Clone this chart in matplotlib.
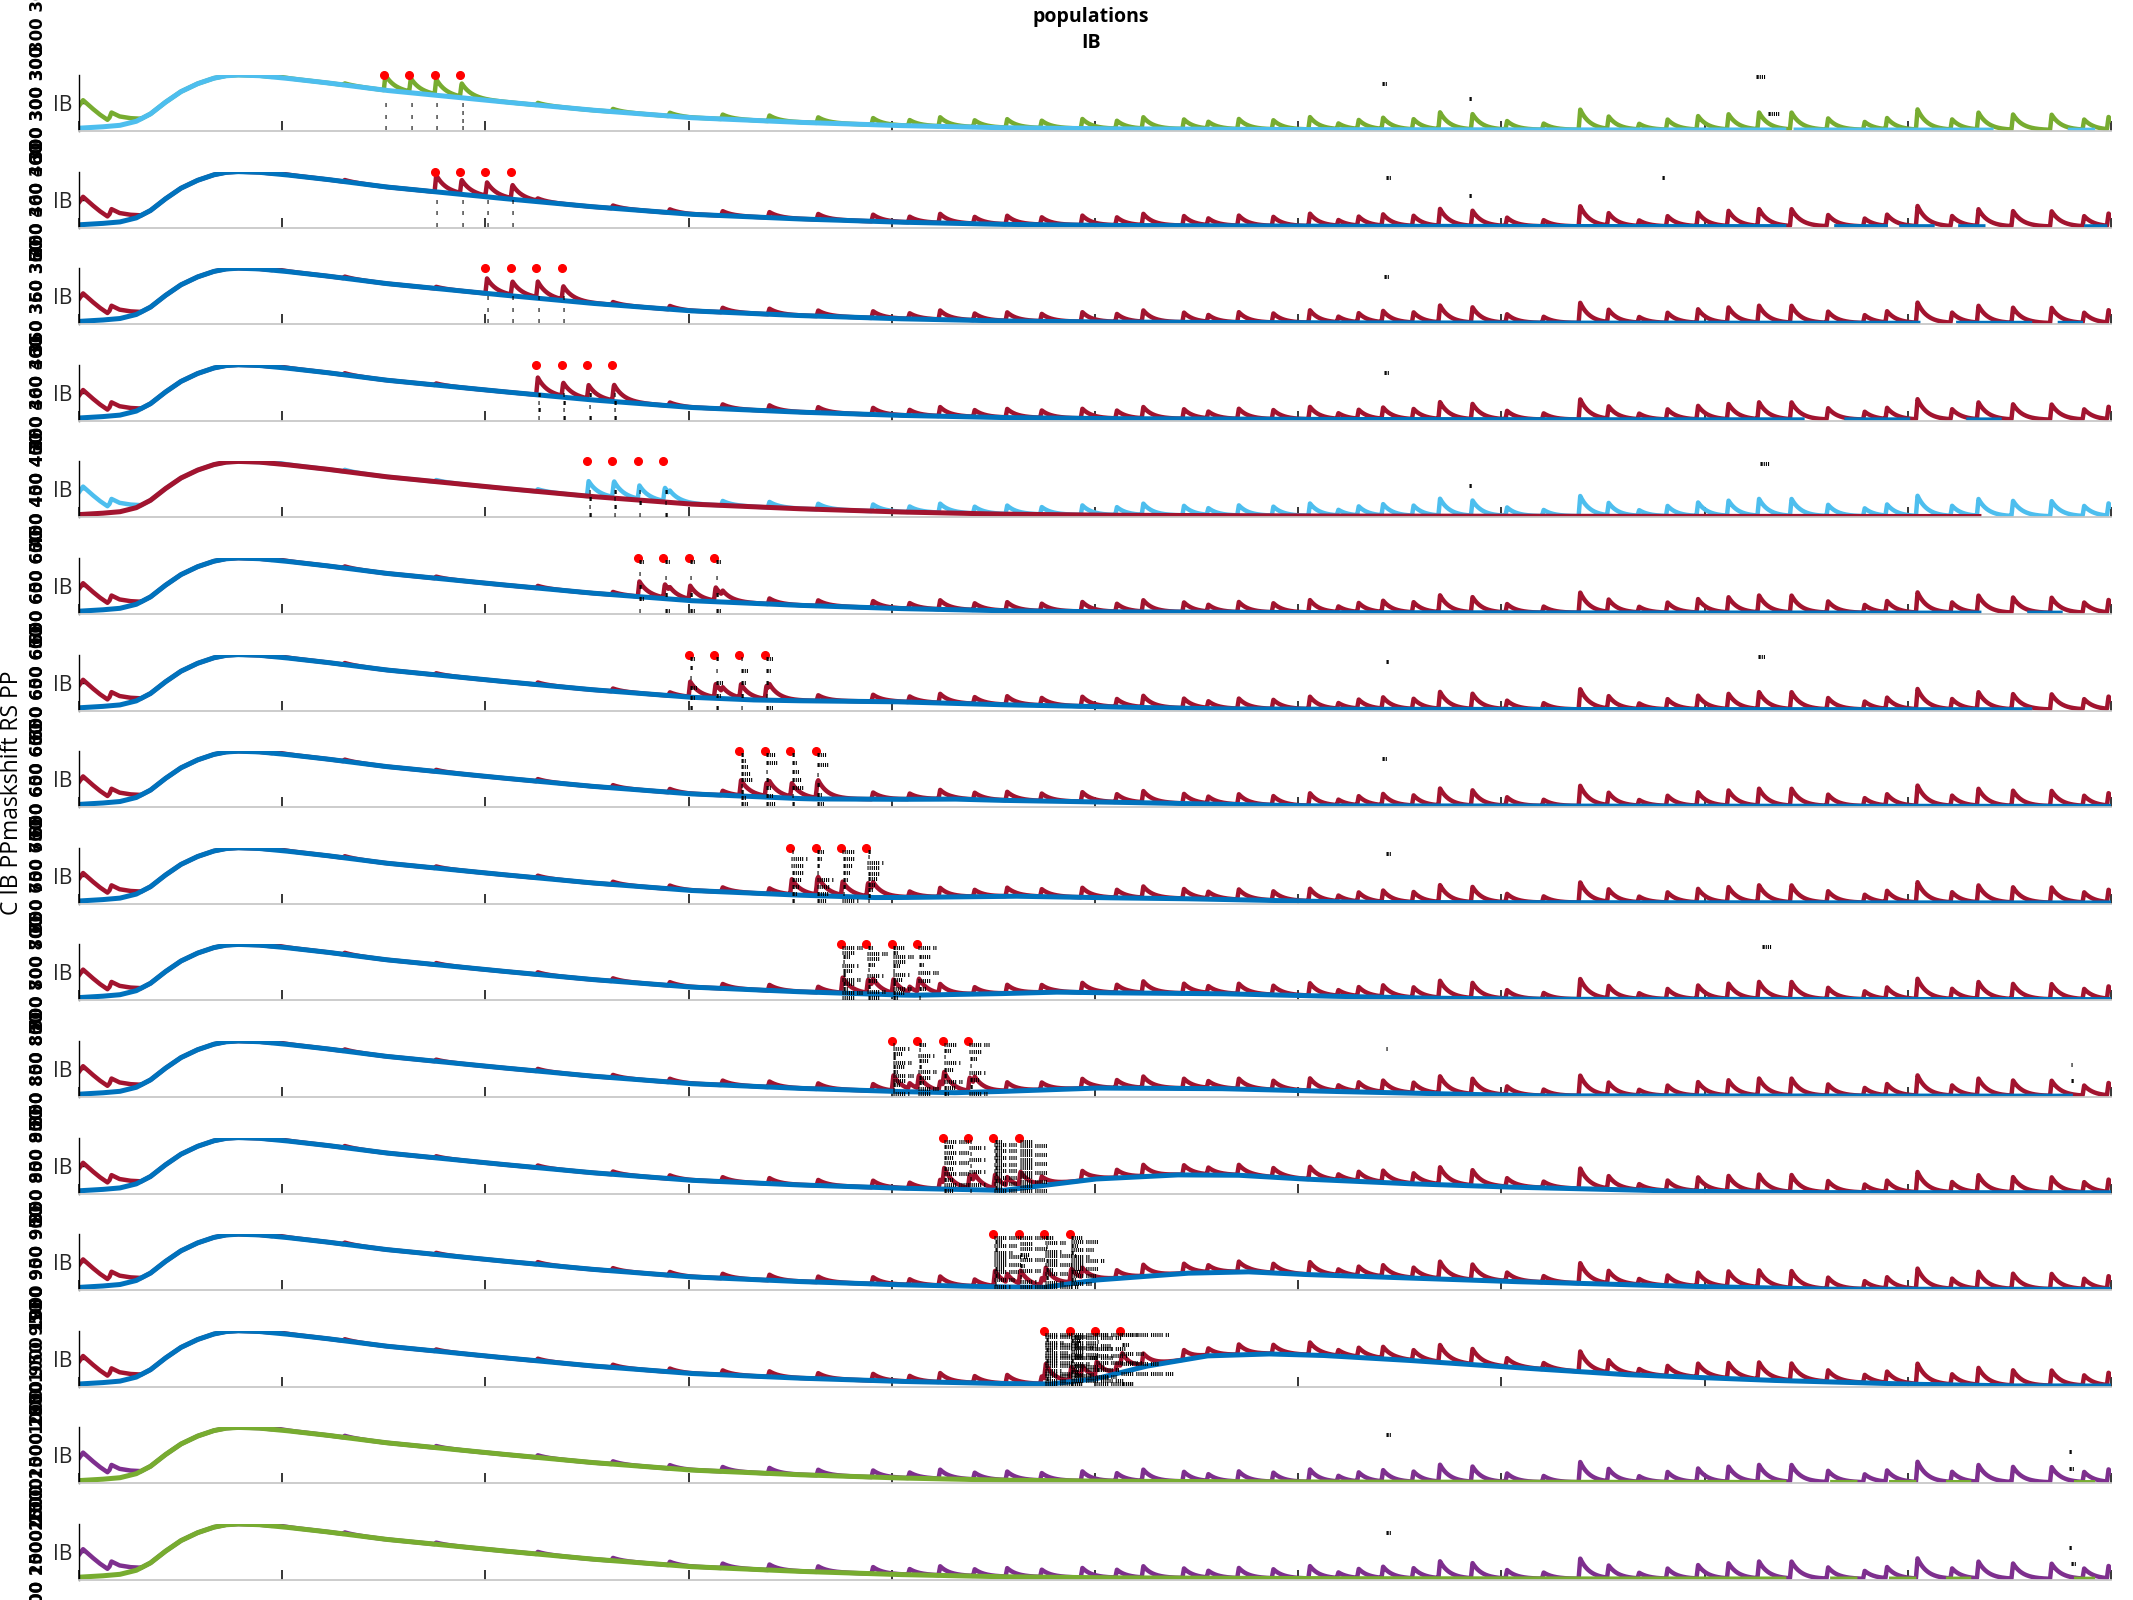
import numpy as np
import matplotlib
matplotlib.use("Agg")
import matplotlib.pyplot as plt

W, H, DPI = 2133, 1600, 100

# ---------------- data ----------------
n_rows = 16
row_ylabels = [(300, 300), (360, 400), (360, 350), (400, 360), (450, 400), (650, 600),
               (600, 650), (650, 600), (700, 650), (800, 700), (850, 800), (900, 850),
               (950, 900), (1000, 950), (1500, 2000), (1500, 2000)]

GREEN, LBLUE, RED, BLUE, PURPLE = "#77AC30", "#4DBEEE", "#A2142F", "#0072BD", "#7E2F8E"
spiky_colors = [GREEN, RED, RED, RED, LBLUE] + [RED] * 9 + [PURPLE, PURPLE]
smooth_colors = [LBLUE, BLUE, BLUE, BLUE, RED] + [BLUE] * 9 + [GREEN, GREEN]

# smooth envelope (time in ms, normalised amplitude)
env_t = [0, 10, 20, 28, 35, 42, 50, 58, 66, 72, 78, 88, 100, 120, 150, 200, 250, 300,
         350, 400, 450, 500, 600, 700, 850, 1000]
env_v = [0.05, 0.07, 0.1, 0.17, 0.3, 0.5, 0.7, 0.84, 0.94, 0.985, 1.0, 0.99, 0.95,
         0.87, 0.73, 0.55, 0.38, 0.24, 0.16, 0.1, 0.06, 0.04, 0.025, 0.02, 0.018, 0.015]

# late humps added to the envelope, per row
hump_t = {6: [330, 400, 480, 560], 7: [360, 430, 510, 600], 8: [390, 460, 540, 640],
          9: [410, 480, 560, 660, 720], 10: [430, 500, 560, 650, 720],
          11: [455, 500, 540, 570, 600, 650, 700, 780, 850],
          12: [475, 500, 545, 575, 600, 650, 700, 780, 860],
          13: [478, 500, 525, 555, 585, 610, 650, 700, 760, 830, 900, 950]}
hump_v = {6: [0, 0.06, 0.04, 0], 7: [0, 0.07, 0.05, 0], 8: [0, 0.08, 0.06, 0],
          9: [0, 0.1, 0.09, 0.02, 0], 10: [0, 0.12, 0.12, 0.05, 0],
          11: [0, 0.22, 0.3, 0.3, 0.24, 0.16, 0.1, 0.03, 0],
          12: [0, 0.14, 0.27, 0.3, 0.26, 0.2, 0.14, 0.06, 0],
          13: [0, 0.1, 0.33, 0.52, 0.56, 0.54, 0.46, 0.34, 0.2, 0.1, 0.03, 0]}

# onset transient of the spiking trace
onset_t = [0, 2, 6, 10, 14, 15, 16, 20, 25, 30, 36]
onset_v = [0.45, 0.55, 0.42, 0.3, 0.2, 0.24, 0.33, 0.26, 0.23, 0.22, 0.0]

# background spikes (time, amplitude)
bg_t = [95, 130, 175, 225, 262, 290, 316, 339, 363, 390, 408, 423, 440, 456, 473, 493,
        510, 523, 543, 555, 570, 587, 605, 619, 629, 641, 656, 669, 685, 702, 720, 738,
        752, 767, 781, 796, 811, 826, 842, 860, 878, 889, 904, 921, 934, 951, 970, 986, 998]
bg_a = [0.03, 0.03, 0.03, 0.04, 0.05, 0.06, 0.08, 0.1, 0.1, 0.12, 0.1, 0.16, 0.12, 0.15,
        0.13, 0.17, 0.14, 0.2, 0.17, 0.12, 0.18, 0.16, 0.22, 0.1, 0.16, 0.2, 0.18, 0.3,
        0.27, 0.15, 0.11, 0.36, 0.22, 0.1, 0.18, 0.24, 0.27, 0.3, 0.3, 0.2, 0.14, 0.2,
        0.36, 0.18, 0.3, 0.27, 0.27, 0.18, 0.22]

# the four marked spikes of each row (rows 1..14)
main_t = [[150 + 25 * r + 12.5 * k for k in range(4)] for r in range(14)]
main_a = [0.27, 0.24, 0.24, 0.24]

# visible pieces of the smooth trace
smooth_segs = [[(0, 839), (845, 941), (980, 991)],
               [(0, 839), (865, 889), (897, 912), (926, 937), (988, 997)],
               [(0, 905), (925, 960), (975, 985)],
               [(0, 848), (870, 900), (930, 945)],
               [(0, 935)],
               [(0, 935), (960, 975)],
               [(0, 960)], [(0, 1000)], [(0, 1000)], [(0, 1000)], [(0, 980)],
               [(0, 1000)], [(0, 1000)], [(0, 1000)],
               [(0, 839), (863, 874), (892, 903), (920, 930), (983, 991)],
               [(0, 839), (863, 874), (892, 903), (920, 930), (983, 991)]]

# tiny annotation marks near the marked spikes (count per spike)
mark_counts = [[3, 3, 3, 4], [3, 3, 3, 3], [3, 3, 3, 3], [4, 4, 3, 4], [4, 4, 3, 3],
               [5, 4, 4, 4], [6, 5, 5, 5], [9, 7, 7, 6], [8, 8, 8, 10], [12, 10, 12, 7],
               [12, 10, 9, 8], [10, 9, 16, 12], [14, 10, 12, 14], [20, 18, 8, 6]]
mark_width = [1, 1, 1, 2, 2, 3, 4, 6, 8, 10, 10, 14, 16, 26]

# isolated marks far right: (row, time, y, nchar)
far_marks = [(0, 641, 0.83, 3), (0, 684, 0.56, 2), (0, 825, 0.95, 5), (0, 831, 0.29, 6),
             (1, 643, 0.88, 3), (1, 684, 0.56, 2), (1, 779, 0.88, 2),
             (2, 642, 0.83, 3), (3, 642, 0.85, 3), (4, 684, 0.56, 2), (4, 827, 0.95, 5),
             (6, 643, 0.85, 2), (6, 826, 0.95, 4), (7, 641, 0.85, 3), (8, 643, 0.88, 3),
             (9, 828, 0.95, 5), (10, 643, 0.85, 1), (10, 980, 0.56, 1), (10, 980, 0.27, 2),
             (14, 643, 0.85, 3), (14, 979, 0.56, 2), (14, 979, 0.24, 3),
             (15, 643, 0.83, 3), (15, 979, 0.56, 2), (15, 980, 0.27, 3)]

# ---------------- drawing ----------------
plt.rcParams['font.family'] = ['Open Sans', 'DejaVu Sans']
fig = plt.figure(figsize=(W / DPI, H / DPI), dpi=DPI)

t = np.linspace(0, 1000, 5001)


def spikes(times, amps):
    out = np.zeros_like(t)
    for tk, ak in zip(times, amps):
        d = t - tk
        rise = (d >= 0) & (d < 0.8)
        dec = d >= 0.8
        out[rise] += ak * d[rise] / 0.8
        out[dec] += ak * np.exp(-(d[dec] - 0.8) / 4.8)
    return out


left_px, width_px, ax_h = 79, 2032, 56
for r in range(n_rows):
    base_px = 131 + r * 96.6
    ax = fig.add_axes([left_px / W, 1 - base_px / H, width_px / W, ax_h / H])
    env = np.interp(t, env_t, env_v)
    if r in hump_t:
        env = env + np.interp(t, hump_t[r], hump_v[r], left=0, right=0)
    sp = env + spikes(bg_t, bg_a)
    if r < 14:
        sp = sp + spikes(main_t[r], main_a)
    sp = np.maximum(sp, np.interp(t, onset_t, onset_v, right=0))

    sm = np.full_like(env, np.nan)
    for a, b in smooth_segs[r]:
        m = (t >= a) & (t <= b)
        sm[m] = env[m]

    ax.plot(t, sp, color=spiky_colors[r], lw=3.2, solid_joinstyle='round')
    ax.plot(t, sm, color=smooth_colors[r], lw=3.6)

    if r < 14:
        ax.plot(main_t[r], [1.0] * 4, 'o', color='#FF0000', ms=5.5, mec='#FF0000',
                clip_on=False, zorder=5)
        top = 0.45 if r < 5 else 0.92
        for k, tk in enumerate(main_t[r]):
            n = mark_counts[r][k]
            ys = np.linspace(top, 0.04, n)
            for i, y in enumerate(ys):
                L = 1 + (i * 7 + k * 3 + r) % mark_width[r]
                s = ''.join('l' if (j % 7) != 6 else ' ' for j in range(L))
                ax.text(tk + 0.5, y, s, fontsize=4.2, color='black', family='DejaVu Sans',
                        fontweight='bold', ha='left', va='center', zorder=6)

    ax.set_xlim(0, 1000)
    ax.set_ylim(0, 1)
    for s in ('top', 'right'):
        ax.spines[s].set_visible(False)
    ax.spines['bottom'].set_color('#c8c8c8')
    ax.spines['bottom'].set_linewidth(1.3)
    ax.spines['left'].set_color('black')
    ax.spines['left'].set_linewidth(1.0)
    ax.set_xticks(np.arange(0, 1001, 100))
    ax.set_xticklabels([])
    ax.tick_params(axis='x', direction='in', length=7, width=1.1, color='black')
    ax.set_yticks([0.5])
    ax.set_yticklabels(['IB'])
    ax.tick_params(axis='y', direction='in', length=4, width=1, color='black', pad=5,
                   labelsize=15, labelcolor='#262626')
    ax.patch.set_alpha(0)

    # overlapping rotated tick labels at far left
    a, b = row_ylabels[r]
    cy = 1 - (base_px - 28) / H
    for v in (a, b):
        fig.text(38 / W, cy, f"{v} {v} {v}", rotation=90, ha='center', va='center',
                 fontsize=12, fontweight='bold', family='DejaVu Sans', color='black')

for r, tm, y, n in far_marks:
    ax = fig.axes[r]
    ax.text(tm, y, 'l' * n, fontsize=4.2, color='black', family='DejaVu Sans',
            fontweight='bold', ha='left', va='center')

fig.text(38 / W, 1 - 14 / H, "300 300", rotation=90, ha='center', va='center',
         fontsize=12, fontweight='bold', family='DejaVu Sans')
fig.text(1091 / W, 1 - 17 / H, "populations", ha='center', va='center', fontsize=14,
         fontweight='bold')
fig.text(1091 / W, 1 - 43 / H, "IB", ha='center', va='center', fontsize=14,
         fontweight='bold')
fig.text(12 / W, 1 - 793 / H, "C IB PPmaskshift RS PP", rotation=90, ha='center',
         va='center', fontsize=16.5)

fig.savefig("out.png", dpi=DPI)
